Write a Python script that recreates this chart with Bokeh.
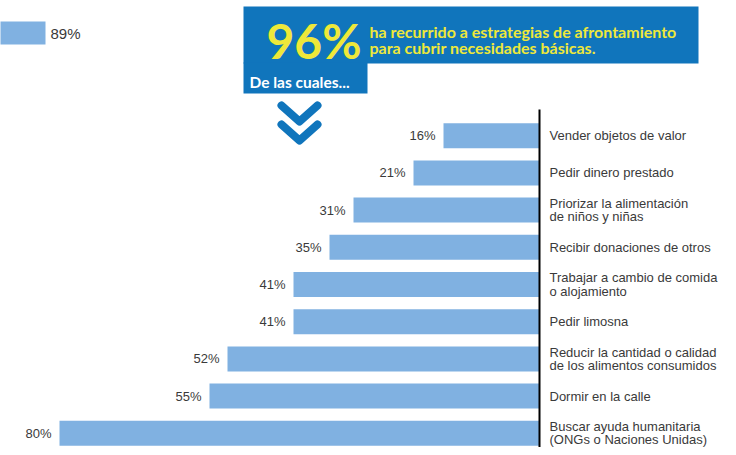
from bokeh.plotting import figure
from bokeh.models import Range1d, ColumnDataSource
from bokeh.core.properties import value
from bokeh.embed import file_html
from bokeh.resources import INLINE

# ---------------- data ----------------
categories = [
    "Vender objetos de valor",
    "Pedir dinero prestado",
    "Priorizar la alimentación\nde niños y niñas",
    "Recibir donaciones de otros",
    "Trabajar a cambio de comida\no alojamiento",
    "Pedir limosna",
    "Reducir la cantidad o calidad\nde los alimentos consumidos",
    "Dormir en la calle",
    "Buscar ayuda humanitaria\n(ONGs o Naciones Unidas)",
]
values = [16, 21, 31, 35, 41, 41, 52, 55, 80]
value_labels = [f"{v}%" for v in values]

prev_value = 89
prev_label = f"{prev_value}%"

headline_value = "96%"
headline_lines = ["ha recurrido a estrategias de afrontamiento",
                  "para cubrir necesidades básicas."]
sub_text = "De las cuales..."

# ---------------- layout ----------------
W, H = 728, 447
PX_PER_PCT = 6.0
AXIS_PX = 539
ROW_PX = 37.2
ROW0_PX = 135.2
BAR_PX = 25

X_START = AXIS_PX / PX_PER_PCT
X_END = -(W - AXIS_PX) / PX_PER_PCT
Y_START = (H - ROW0_PX) / ROW_PX
Y_END = -ROW0_PX / ROW_PX


def px2x(px):
    return X_START - px / PX_PER_PCT


def px2y(py):
    return (py - ROW0_PX) / ROW_PX


BAR_COLOR = "#80B1E1"
BLUE = "#1075BC"
YELLOW = "#EEE83A"
TEXT = "#3a3a3a"

p = figure(width=W, height=H, output_backend="svg", toolbar_location=None,
           x_range=Range1d(X_START, X_END), y_range=Range1d(Y_START, Y_END),
           min_border=0, min_border_left=0, min_border_right=0,
           min_border_top=0, min_border_bottom=0)
p.axis.visible = False
p.grid.visible = False
p.outline_line_color = None
p.background_fill_color = "white"
p.border_fill_color = "white"

idx = list(range(len(values)))
src = ColumnDataSource(dict(y=idx, v=values, lab=value_labels, cat=categories,
                            lx=[v + 8 / PX_PER_PCT for v in values]))

p.hbar(y="y", left=0, right="v", height=BAR_PX / ROW_PX, source=src,
       fill_color=BAR_COLOR, line_color=None)

p.text(x="lx", y="y", text="lab", source=src, text_align="right",
       text_baseline="middle", text_font=value("Liberation Sans"),
       text_font_size="13px", text_color=TEXT)

p.text(x=-10 / PX_PER_PCT, y="y", text="cat", source=src, text_align="left",
       text_baseline="middle", text_font=value("Liberation Sans"),
       text_font_size="13px", text_color=TEXT, text_line_height=0.87)

# vertical axis line
p.segment(x0=0, y0=px2y(109), x1=0, y1=px2y(H + 5), line_color="black", line_width=2)

# fragment of previous chart (89% bar)
prev_end = px2x(45)
p.hbar(y=px2y(32.5), left=prev_end, right=prev_end + prev_value,
       height=23 / ROW_PX, fill_color=BAR_COLOR, line_color=None)
p.text(x=px2x(50), y=px2y(33), text=[prev_label], text_align="left",
       text_baseline="middle", text_font=value("Liberation Sans"),
       text_font_size="15px", text_color=TEXT)

# banner
p.quad(left=px2x(243), right=px2x(698), top=px2y(6), bottom=px2y(63),
       fill_color=BLUE, line_color=None)
p.quad(left=px2x(243), right=px2x(367), top=px2y(62), bottom=px2y(93),
       fill_color=BLUE, line_color=None)
p.text(x=px2x(266), y=px2y(40), text=[headline_value], text_align="left",
       text_baseline="alphabetic", text_font=value("Lato"),
       text_font_style="bold", text_font_size="48px", text_color=YELLOW)
for i, line in enumerate(headline_lines):
    p.text(x=px2x(369), y=px2y(30.5 + 16 * i), text=[line], text_align="left",
           text_baseline="alphabetic", text_font=value("Lato"),
           text_font_style="bold", text_font_size="16px", text_color=YELLOW)
p.text(x=px2x(249), y=px2y(81), text=[sub_text], text_align="left",
       text_baseline="alphabetic", text_font=value("Lato"),
       text_font_style="bold", text_font_size="15.5px", text_color="white")

# double chevron
for dy in (0, 19):
    p.line(x=[px2x(281), px2x(299), px2x(317)],
           y=[px2y(105 + dy), px2y(121 + dy), px2y(105 + dy)],
           line_color=BLUE, line_width=8, line_cap="round", line_join="round")

open("out.html", "w").write(file_html(p, INLINE))
